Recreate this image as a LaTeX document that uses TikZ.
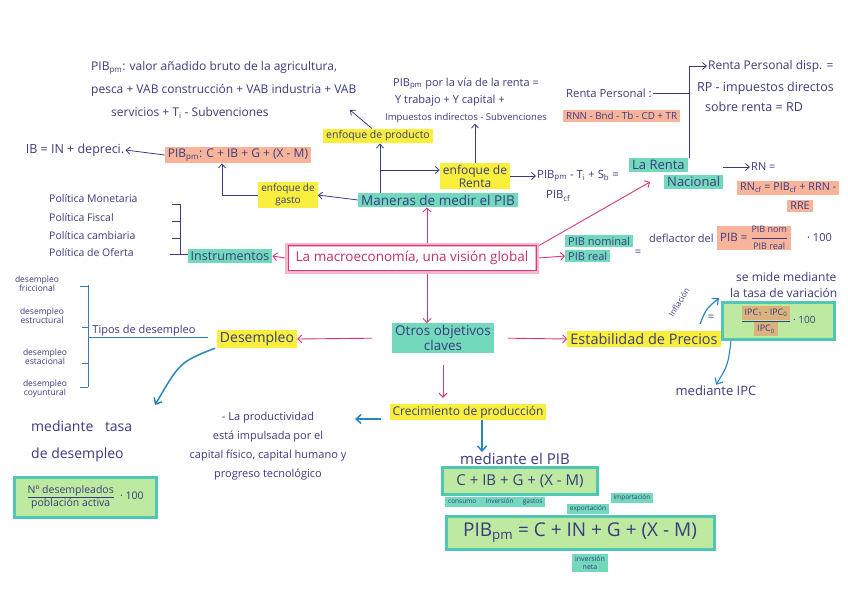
\documentclass[tikz,border=0pt]{standalone}
\usepackage{amsmath}
\usepackage{fontspec}
\setmainfont{Open Sans}
\usetikzlibrary{arrows.meta}
\definecolor{ink}{HTML}{3B3B80}
\definecolor{pinkA}{HTML}{D8377A}
\definecolor{pinkT}{HTML}{C0306A}
\definecolor{pinkL}{HTML}{F6B8C8}
\definecolor{hly}{HTML}{F7EF3C}
\definecolor{hlc}{HTML}{72D9BD}
\definecolor{hlo}{HTML}{F8B49A}
\definecolor{hlt}{HTML}{D9B27E}
\definecolor{gfill}{HTML}{BDEAA0}
\definecolor{gdraw}{HTML}{4FC7B4}
\definecolor{blueA}{HTML}{2A86C0}
\definecolor{blueB}{HTML}{3A78B0}
\newcommand{\fs}[1]{\fontsize{#1}{#1}\selectfont}
\begin{document}
\begin{tikzpicture}[x=1pt,y=-1pt,
  txt/.style={text=ink, inner sep=1pt, font=\fontsize{9.5}{11}\selectfont},
  hy/.style={txt, fill=hly, inner xsep=3pt, inner ysep=2pt},
  hc/.style={txt, fill=hlc, inner xsep=3pt, inner ysep=2pt},
  ho/.style={txt, fill=hlo, inner xsep=3pt, inner ysep=2pt},
  gbox/.style={txt, fill=gfill, draw=gdraw, line width=3pt, inner sep=3pt},
  conn/.style={ink, line width=0.8pt, -{Straight Barb[length=4pt,width=7pt]}},
  pconn/.style={pinkA, line width=0.9pt, -{Straight Barb[length=4pt,width=8pt]}},
  bconn/.style={blueA, line width=1.5pt, -{Straight Barb[length=5pt,width=9pt]}},
  br/.style={ink, line width=0.9pt},
  bbr/.style={blueB, line width=0.9pt},
  small/.style={txt, font=\fontsize{8.5}{9.5}\selectfont}
]
\useasboundingbox (0,0) rectangle (848,599);
\fill[white] (0,0) rectangle (848,599);

% ---------- top texts ----------
\node[txt, anchor=west, align=left, font=\fontsize{12}{23}\selectfont] (prodtxt) at (90,90)
  {PIB\textsubscript{pm}: valor añadido bruto de la agricultura,\\
   pesca + VAB construcción + VAB industria + VAB\\
   \hspace*{20pt}servicios + T\textsubscript{i} - Subvenciones};
\node[txt, anchor=west, align=left, font=\fontsize{11}{17}\selectfont] (rentatxt) at (384,100)
  {\hspace*{8pt}PIB\textsubscript{pm} por la vía de la renta =\\
   \hspace*{10pt}Y trabajo + Y capital +\\
   {\fontsize{9.5}{11}\selectfont Impuestos indirectos - Subvenciones}};

\node[txt, anchor=west, font=\fs{11.3}] (rp) at (565,93) {Renta Personal :};
\node[ho, anchor=west, font=\fs{9.8}] (rnn) at (563,116) {RNN - Bnd - Tb - CD + TR};
\node[txt, anchor=west, font=\fs{12}] (rpd) at (707,66) {Renta Personal disp. =};
\node[txt, anchor=west, align=left, font=\fontsize{12.5}{20}\selectfont] (rpi) at (696,97)
  {RP - impuestos directos\\ \hspace*{8pt}sobre renta = RD};
\coordinate (brtop) at (689,66);
\coordinate (brmid) at (689,93);

% ---------- upper middle ----------
\node[ho, font=\fs{12}] (pibg) at (238,155) {PIB\textsubscript{pm}: C + IB + G + (X - M)};
\node[txt, font=\fs{12.5}] (ib) at (75,150) {IB = IN + depreci.};
\node[hy, align=center, font=\fontsize{10}{12}\selectfont] (gasto) at (288,195) {enfoque de\\ gasto};
\node[hc, font=\fs{13.5}] (maneras) at (438,200) {Maneras de medir el PIB};
\node[hy, font=\fs{10.5}] (prod) at (378,136) {enfoque de producto};
\node[hy, align=center, font=\fontsize{12}{13}\selectfont] (rentaenf) at (475,176) {enfoque de\\ Renta};
\node[txt, anchor=west, font=\fs{11.3}] (pibcf1) at (536,176) {PIB\textsubscript{pm} - T\textsubscript{i} + S\textsubscript{b} =};
\node[txt, anchor=west, font=\fs{11.3}] (pibcf2) at (545,196) {PIB\textsubscript{cf}};
\coordinate (mbr) at (380,170);
\coordinate (ptip) at (350,110);

% La renta nacional
\node[hc, anchor=west, font=\fs{13}] (rn1) at (629,165) {La Renta};
\node[hc, anchor=west, font=\fs{13}] (rn2) at (664,182) {Nacional};
\node[txt, anchor=west, font=\fs{11}] (rneq) at (750,167) {RN =};
\node[ho, anchor=west, font=\fs{10.8}] (rncf) at (737,188) {RN\textsubscript{cf} = PIB\textsubscript{cf} + RRN -};
\node[ho, font=\fs{10.8}] (rre) at (800,206) {RRE};

% Politicas
\node[txt, anchor=west, font=\fs{10.5}] (pol1) at (48,199) {Política Monetaria};
\node[txt, anchor=west, font=\fs{10.5}] (pol2) at (48,218) {Política Fiscal};
\node[txt, anchor=west, font=\fs{10.5}] (pol3) at (48,236) {Política cambiaria};
\node[txt, anchor=west, font=\fs{10.5}] (pol4) at (48,253) {Política de Oferta};
\coordinate (pb1) at (180,204);
\coordinate (pb2) at (180,221);
\coordinate (pb3) at (180,238);
\coordinate (pb4) at (180,254);
\node[hc, font=\fs{12.5}] (instr) at (230,256) {Instrumentos};

% central
\node[draw=pinkL, line width=4pt, fill=white, minimum width=250pt, minimum height=27pt,
      text=pinkT, font=\fs{13.5}] (central) at (412,258)
  {La macroeconomía, una visión global};
\draw[pinkA, line width=0.6pt] ([shift={(3pt,-3pt)}]central.north west) rectangle ([shift={(-3pt,3pt)}]central.south east);

% PIB nominal / real
\node[hc, anchor=west, font=\fs{11}] (pibn) at (565,241) {PIB nominal};
\node[hc, anchor=west, font=\fs{11}] (pibr) at (565,256) {PIB real};
\node[txt, font=\fs{11}] (eq1) at (638,253) {=};
\node[txt, anchor=west, font=\fs{11}] (defl) at (648,238) {deflactor del};
\node[ho, anchor=west, inner ysep=1pt, font=\fs{11.5}] (deffor) at (717,238)
  {PIB = $\dfrac{\mbox{\fs{9}PIB nom}}{\mbox{\fs{9}PIB real}}$};
\node[txt, anchor=west, font=\fs{11}] (cien1) at (806,238) {· 100};

% ---------- lower ----------
\node[hc, align=center, font=\fontsize{13.5}{15}\selectfont] (otros) at (443,338) {Otros objetivos\\ claves};
\node[hy, font=\fs{14}] (desemp) at (257,339) {Desempleo};
\node[hy, font=\fs{14.5}] (estab) at (644,339) {Estabilidad de Precios};
\node[hy, font=\fs{12}] (crec) at (468,412) {Crecimiento de producción};

% tipos de desempleo
\node[txt, font=\fs{11}] (tipos) at (144,331) {Tipos de desempleo};
\coordinate (tb) at (88,337);
\coordinate (tend) at (208,337);
\node[small, align=center] (fric) at (37,284) {desempleo\\ friccional};
\node[small, align=center] (estr) at (42,316) {desempleo\\ estructural};
\node[small, align=center] (estac) at (45,357) {desempleo\\ estacional};
\node[small, align=center] (coy) at (45,389) {desempleo\\ coyuntural};

\node[txt, anchor=west, align=left, font=\fontsize{14}{27}\selectfont] (tasa) at (30,441)
  {mediante \hspace{8pt}tasa\\ de desempleo};
\coordinate (tasatip) at (155,405);
\node[gbox, minimum width=142pt, minimum height=40pt] (tasaf) at (85,497)
  {$\dfrac{\mbox{\fs{10.5}Nº desempleados}}{\mbox{\fs{10.5}población activa}}$\hspace{5pt}{\fs{10.5}· 100}};

\node[txt, align=center, font=\fontsize{11}{19}\selectfont] (prodv) at (268,446)
  {- La productividad\\ está impulsada por el\\ capital físico, capital humano y\\ progreso tecnológico};
\coordinate (prodtip) at (355,419);

\node[txt, font=\fs{15}] (medpib) at (515,459) {mediante el PIB};
\node[gbox, minimum width=155pt, minimum height=27pt, font=\fs{15}] (f1) at (520,481) {C + IB + G + (X - M)};
\node[hc, anchor=west, font=\fs{6.5}, inner ysep=1.5pt] (labA) at (445,502) {consumo \hspace{6pt} inversión \hspace{6pt} gastos};
\node[hc, font=\fs{6.5}, inner ysep=1.5pt] (labB) at (588,509) {exportación};
\node[hc, font=\fs{6.5}, inner ysep=1.5pt] (labC) at (632,498) {importación};
\node[gbox, minimum width=268pt, minimum height=33pt, font=\fs{19}] (f2) at (580,533)
  {PIB\textsubscript{pm} = C + IN + G + (X - M)};
\node[hc, align=center, font=\fontsize{7}{8}\selectfont] (invn) at (590,563) {inversión\\ neta};

% right lower
\node[txt, anchor=west, align=left, font=\fontsize{12}{16}\selectfont] (semide) at (729,285)
  {\hspace*{6pt}se mide mediante\\ la tasa de variación};
\node[txt, rotate=58, font=\fs{8}] (infl) at (679,302) {Inflación};
\coordinate (infst) at (700,324);
\coordinate (inftip) at (719,298);
\node[txt, font=\fs{11}] (eq2) at (711,318) {=};
\node[gbox, minimum width=112pt, minimum height=33pt] (ipcf) at (778,321)
  {$\dfrac{\mbox{\colorbox{hlt}{\fs{9}IPC\textsubscript{1} - IPC\textsubscript{0}}}}{\mbox{\colorbox{hlt}{\fs{9}IPC\textsubscript{0}}}}$\,{\fs{10}· 100}};
\node[txt, font=\fs{13}] (medipc) at (716,391) {mediante IPC};

% ---------- connectors ----------
\draw[br] (rp.east) -- (brmid);
\draw[br] (brtop) -- (brtop |- rn1.north);
\draw[conn] (brtop) -- (rpd.west);
\draw[conn] (pibg.west) -- (ib.east);
\draw[conn] (maneras.west) -- (gasto.east);
\draw[conn] (gasto.west) -| ([xshift=-16pt]pibg.south);
\draw[conn] ([xshift=-58pt]maneras.north) -- ([xshift=-58pt]maneras.north |- prod.south);
\draw[conn] (mbr) -- (mbr -| rentaenf.west);
\draw[conn] (rentaenf.north) -- (rentaenf.north |- rentatxt.south);
\draw[conn] ([xshift=-6pt]prod.north) -- (ptip);
\draw[conn] (rentaenf.east |- pibcf1.west) -- (pibcf1.west);
\draw[conn] (rn2.east |- rneq.west) -- (rneq.west);

\draw[br] (pb1) -- (pb4);
\draw[br] ([xshift=-8pt]pb1) -- (pb1);
\draw[br] ([xshift=-8pt]pb2) -- (pb2);
\draw[br] ([xshift=-8pt]pb3) -- (pb3);
\draw[br] ([xshift=-10pt]pb4) -- (instr.west |- pb4);

\draw[pconn] (central.west) -- (instr.east);
\draw[pconn] ([xshift=15pt]central.north) -- ([xshift=15pt]central.north |- maneras.south);
\draw[pconn] ([yshift=-3pt]central.north east) -- ([xshift=-14pt]rn2.west);
\draw[pconn] (central.east) -- (pibr.west);
\draw[pconn] ([xshift=15pt]central.south) -- ([xshift=15pt]central.south |- otros.north);
\draw[pconn, shorten <=20pt] (otros.west) -- (desemp.east);
\draw[pconn, shorten <=14pt] (otros.east) -- (estab.west);
\draw[pconn, shorten <=12pt, shorten >=6pt] (otros.south) -- (otros.south |- crec.north);

\draw[bbr] (tb) -- (tend);
\draw[bbr] (88,285) -- (88,387);
\draw[bbr] (80,286) -- (88,286);
\draw[bbr] (82,327) -- (88,327);
\draw[bbr] (82,363) -- (88,363);
\draw[bbr] (80,387) -- (88,387);

\draw[bconn] ([xshift=-42pt]desemp.south) .. controls (180,362) .. (tasatip);
\draw[bconn] ([xshift=-8pt,yshift=-7pt]crec.west) -- (prodtip);
\draw[bconn] ([xshift=14pt]crec.south) -- ([xshift=14pt]crec.south |- medpib.north);
\draw[bconn, line width=1.2pt] (infst) .. controls (706,309) .. (inftip);
\draw[bconn, line width=1.1pt] ([xshift=-47pt]ipcf.south) .. controls (728,365) .. (medipc.north);
\end{tikzpicture}
\end{document}
